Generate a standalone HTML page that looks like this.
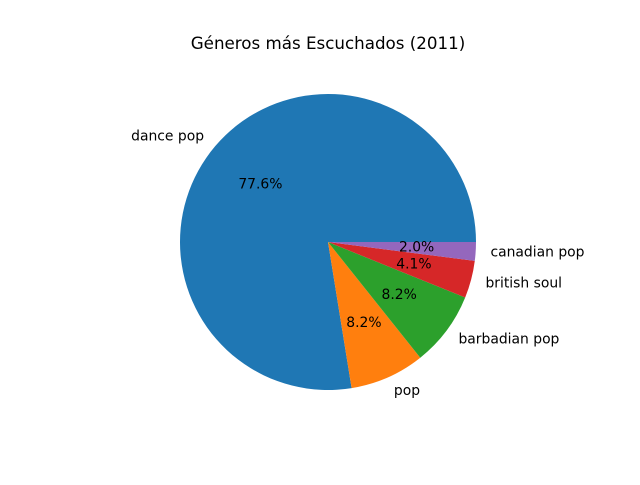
<!DOCTYPE html>
<html><head><meta charset="utf-8"><style>
body{margin:0;background:#fff}
svg{font-family:"DejaVu Sans","Liberation Sans",sans-serif}
</style></head><body>
<svg id="c" width="640" height="480">
<text x="328" y="49" text-anchor="middle" font-size="16.7">Géneros más Escuchados (2011)</text>
</svg>
<script>
const categories = ["dance pop","pop","barbadian pop","british soul","canadian pop"];
const counts = [38,4,4,2,1];
const colors = ["#1f77b4","#ff7f0e","#2ca02c","#d62728","#9467bd"];
const svg = document.getElementById('c');
const NS = "http://www.w3.org/2000/svg";
const cx = 328, cy = 242, R = 148;
const total = counts.reduce((a,b)=>a+b,0);
let ang = 0;
function pt(a, r){ return [cx + r*Math.cos(a*Math.PI/180), cy - r*Math.sin(a*Math.PI/180)]; }
counts.forEach((v,i)=>{
  const sweep = v/total*360;
  const a0 = ang, a1 = ang+sweep;
  const p0 = pt(a0,R), p1 = pt(a1,R);
  const path = document.createElementNS(NS,'path');
  path.setAttribute('d',`M${cx},${cy} L${p0[0]},${p0[1]} A${R},${R} 0 ${sweep>180?1:0} 0 ${p1[0]},${p1[1]} Z`);
  path.setAttribute('fill',colors[i]);
  
  
  svg.appendChild(path);
  const mid = (a0+a1)/2;
  const lp = pt(mid, R*1.1);
  const t = document.createElementNS(NS,'text');
  t.setAttribute('x', lp[0]); t.setAttribute('y', lp[1]+4);
  t.setAttribute('font-size','13.9');
  t.setAttribute('text-anchor', lp[0]>=cx ? 'start':'end');
  t.textContent = categories[i];
  
  
  svg.appendChild(t);
  const pp = pt(mid, R*0.6);
  const p = document.createElementNS(NS,'text');
  p.setAttribute('x', pp[0]); p.setAttribute('y', pp[1]+4);
  p.setAttribute('font-size','13.9');
  p.setAttribute('text-anchor','middle');
  p.textContent = (v/total*100).toFixed(1)+'%';
  
  
  svg.appendChild(p);
  ang = a1;
});
</script>
</body></html>
